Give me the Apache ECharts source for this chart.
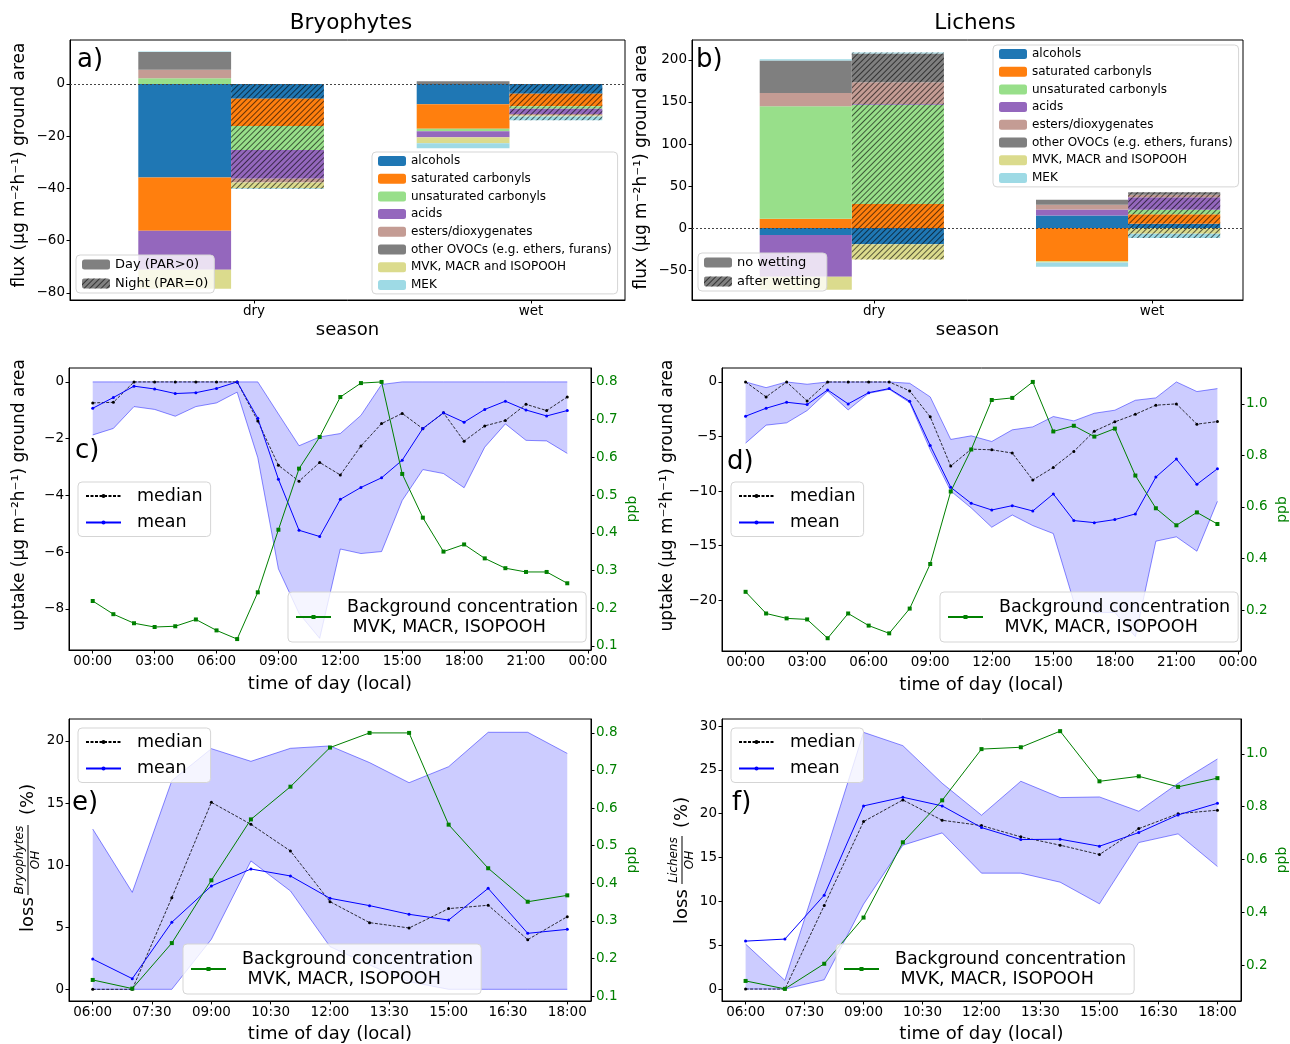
<!DOCTYPE html>
<html><head><meta charset="utf-8">
<script src="https://cdn.jsdelivr.net/npm/echarts@6/dist/echarts.min.js"></script>
<style>html,body{margin:0;padding:0;background:#fff}#c{width:1290px;height:1044px}</style>
</head><body><div id="c"></div>
<script>
// ================= DATA =================
const GROUPS = ['alcohols','saturated carbonyls','unsaturated carbonyls','acids','esters/dioxygenates','other OVOCs (e.g. ethers, furans)','MVK, MACR and ISOPOOH','MEK'];
const SEASONS = ['dry','wet'];
const BRYO_PERIODS = ['Day (PAR>0)','Night (PAR=0)'];
const LICH_PERIODS = ['no wetting','after wetting'];
// Panel a (Bryophytes) flux, bars ordered [dry Day, dry Night, wet Day, wet Night]
const A_ALCOHOLS = [-35.8, -5.7, -7.8, -3.8];
const A_SAT_CARB = [-20.4, -10.4, -9.4, -4.8];
const A_UNSAT_CARB = [2.2, -9.2, -0.9, -0.9];
const A_ACIDS = [-14.9, -11.0, -2.2, -2.0];
const A_ESTERS = [3.2, -1.4, -0.2, -0.6];
const A_OTHER = [6.8, 0, 1.0, 0];
const A_MVK = [-7.3, -2.2, -2.2, -0.4];
const A_MEK = [0.2, -0.3, -1.9, -1.4];
// Panel b (Lichens) flux, bars ordered [dry no wetting, dry after wetting, wet no wetting, wet after wetting]
const B_ALCOHOLS = [-8.3, -19.3, 15.0, 5.1];
const B_SAT_CARB = [11.0, 28.7, -39.4, 11.4];
const B_UNSAT_CARB = [134.0, 118.0, 0, 5.1];
const B_ACIDS = [-49.6, 0.8, 7.1, 15.0];
const B_ESTERS = [15.7, 26.0, 5.5, 3.1];
const B_OTHER = [38.6, 34.3, 5.9, 2.8];
const B_MVK = [-15.7, -18.1, -1.6, -6.7];
const B_MEK = [1.6, 1.2, -5.1, -5.1];

// Panels c, d: hourly (local time)
const HOURS_DAY = [0,1,2,3,4,5,6,7,8,9,10,11,12,13,14,15,16,17,18,19,20,21,22,23];
const TICKS_DAY = [0,3,6,9,12,15,18,21,24];
const TICK_LABELS_DAY = ['00:00','03:00','06:00','09:00','12:00','15:00','18:00','21:00','00:00'];
const C_MEDIAN = [-0.74,-0.72,0,0,0,0,0,0,-1.38,-2.94,-3.50,-2.84,-3.28,-2.26,-1.47,-1.11,-1.65,-1.09,-2.09,-1.55,-1.36,-0.79,-1.01,-0.53];
const C_MEAN = [-0.93,-0.55,-0.15,-0.25,-0.41,-0.38,-0.23,0,-1.28,-3.43,-5.23,-5.45,-4.14,-3.72,-3.38,-2.76,-1.64,-1.09,-1.42,-0.97,-0.68,-0.99,-1.20,-1.01];
const C_UPPER = [0,0,0,0,0,0,0,0,0,-1.13,-2.25,-1.94,-1.82,-1.18,-0.09,0,0,0,0,0,0,0,0,0];
const C_LOWER = [-1.87,-1.64,-0.87,-0.97,-1.21,-0.87,-0.74,-0.36,-2.67,-6.59,-8.16,-9.04,-5.89,-6.05,-5.98,-4.18,-3.09,-3.23,-3.73,-2.30,-1.48,-2.06,-2.08,-2.52];
const C_BG = [0.219,0.184,0.160,0.150,0.152,0.170,0.141,0.118,0.242,0.408,0.570,0.654,0.760,0.797,0.800,0.556,0.440,0.350,0.369,0.332,0.306,0.296,0.296,0.266];
const D_MEDIAN = [0,-1.37,0,-1.74,0,0,0,0,-0.82,-3.2,-7.71,-6.16,-6.22,-6.52,-8.99,-7.84,-6.37,-4.51,-3.66,-2.96,-2.13,-2.01,-3.87,-3.63];
const D_MEAN = [-3.14,-2.41,-1.86,-2.07,-0.73,-2.01,-0.98,-0.61,-1.77,-5.82,-9.66,-11.13,-11.74,-11.34,-11.83,-10.27,-12.71,-12.9,-12.62,-12.1,-8.72,-7.07,-9.39,-7.96];
const D_UPPER = [0,-0.52,0,-0.21,0,0,0,0,-0.12,-1.37,-5.27,-4.94,-5.46,-4.39,-4.12,-3.17,-3.57,-2.87,-2.59,-1.68,-1.46,0,-0.88,-0.61];
const D_LOWER = [-5.61,-3.96,-3.75,-2.62,-0.85,-2.56,-1.04,-0.67,-1.89,-6.22,-10.0,-11.55,-13.32,-12.2,-13.17,-13.9,-20.15,-21.16,-21.13,-23.35,-14.6,-14.2,-15.52,-10.95];
const D_BG = [0.271,0.187,0.168,0.164,0.091,0.187,0.140,0.110,0.206,0.379,0.660,0.823,1.015,1.023,1.085,0.893,0.915,0.873,0.904,0.722,0.595,0.529,0.579,0.534];

// Panels e, f: daytime hours
const HOURS_LIGHT = [6,7,8,9,10,11,12,13,14,15,16,17,18];
const TICKS_LIGHT = [6,7.5,9,10.5,12,13.5,15,16.5,18];
const TICK_LABELS_LIGHT = ['06:00','07:30','09:00','10:30','12:00','13:30','15:00','16:30','18:00'];
const E_MEDIAN = [0,0,7.38,15.06,13.29,11.14,7.06,5.37,4.94,6.50,6.77,4.0,5.85];
const E_MEAN = [2.44,0.86,5.40,8.32,9.69,9.13,7.33,6.74,6.04,5.58,8.13,4.51,4.83];
const E_UPPER = [12.91,7.81,16.8,19.38,18.36,19.41,19.6,18.26,16.64,17.93,20.7,20.7,19.0];
const E_LOWER = [0,0,0,4.03,10.34,7.92,3.44,1.96,0.62,0,0,0,0];
const E_BG = [0.143,0.120,0.241,0.408,0.570,0.657,0.761,0.800,0.800,0.556,0.440,0.351,0.368];
const F_MEDIAN = [0,0,9.53,19.1,21.57,19.25,18.65,17.36,16.41,15.34,18.3,20.0,20.4];
const F_MEAN = [5.47,5.70,10.71,20.89,21.88,20.89,18.42,17.05,17.09,16.29,17.85,19.86,21.19];
const F_UPPER = [5.13,0.99,15.0,29.28,27.76,23.47,19.83,23.7,21.84,21.91,20.28,23.47,26.24];
const F_LOWER = [0,0,1.06,9.68,16.41,17.81,13.22,13.22,12.19,9.72,16.71,17.7,13.98];
const F_BG = [0.140,0.110,0.205,0.380,0.665,0.824,1.018,1.025,1.086,0.896,0.915,0.875,0.908];

const BG_NAME = 'Background concentration\n MVK, MACR, ISOPOOH';

// ================= STYLE / LAYOUT =================
const FONT = "'DejaVu Sans', sans-serif";
const COLORS = ['#1f77b4','#ff7f0e','#98df8a','#9467bd','#c49c94','#7f7f7f','#dbdb8d','#9edae5'];
const HATCH = {symbol:'rect', symbolSize:1, dashArrayX:[1,0], dashArrayY:[1,2.8], rotation:-Math.PI/4, color:'rgba(0,0,0,0.6)'};
const GREEN = '#008000';
const BAR_SLOTS = ['s0','s1','gap','s2','s3'];  // category slots for bars: two bars, empty slot, two bars

const A_DATA = [A_ALCOHOLS, A_SAT_CARB, A_UNSAT_CARB, A_ACIDS, A_ESTERS, A_OTHER, A_MVK, A_MEK];
const B_DATA = [B_ALCOHOLS, B_SAT_CARB, B_UNSAT_CARB, B_ACIDS, B_ESTERS, B_OTHER, B_MVK, B_MEK];

function fmtNum(v){ return String(v).replace('-', '\u2212'); }
function pick(ticks, labels){ return v => { const i = ticks.findIndex(t => Math.abs(t - v) < 1e-6); return i >= 0 ? labels[i] : ''; }; }

const AX_COMMON = {
  splitLine:{show:false},
  axisLine:{show:true, onZero:false, lineStyle:{color:'#000', width:1}},
  axisTick:{show:true, length:3.5, lineStyle:{color:'#000'}},
  axisLabel:{fontFamily:FONT, fontSize:13.5, color:'#000', margin:5}
};
function xAxisDef(grid, min, max, ticks, labels, name, nameGap){
  return Object.assign({}, AX_COMMON, {
    type:'value', gridIndex:grid, min, max,
    axisTick:Object.assign({}, AX_COMMON.axisTick, {customValues:ticks}),
    axisLabel:Object.assign({}, AX_COMMON.axisLabel, {customValues:ticks, formatter:pick(ticks, labels), margin:4}),
    name, nameLocation:'middle', nameGap, nameTextStyle:{fontFamily:FONT, fontSize:18, color:'#000'}
  });
}
function yAxisDef(grid, min, max, ticks, opts){
  opts = opts || {};
  const right = opts.right;
  const labelFmt = opts.decimals != null ? (v => v.toFixed(opts.decimals)) : fmtNum;
  return Object.assign({}, AX_COMMON, {
    type:'value', gridIndex:grid, min, max, position: right ? 'right' : 'left',
    axisTick:Object.assign({}, AX_COMMON.axisTick, {customValues:ticks}),
    axisLabel:Object.assign({}, AX_COMMON.axisLabel, {customValues:ticks, formatter:labelFmt, color: right ? GREEN : '#000'}),
    name: opts.name || '', nameLocation:'middle', nameGap: opts.nameGap || 40, nameRotate:90,
    nameTextStyle:{fontFamily:FONT, fontSize: right ? 14 : 17, color: right ? GREEN : '#000', padding: opts.namePad || 0}
  });
}

const FRAME = {show:true, borderColor:'#000', borderWidth:1, backgroundColor:'transparent'};
const grids = [
  Object.assign({left:70, top:40, width:555, height:260}, FRAME),
  Object.assign({left:692, top:40, width:551, height:260}, FRAME),
  Object.assign({left:69, top:368, width:522, height:282}, FRAME),
  Object.assign({left:722, top:368, width:521, height:283}, FRAME),
  Object.assign({left:69, top:719, width:522, height:283}, FRAME),
  Object.assign({left:722, top:719, width:521, height:283}, FRAME),
  // bar-slot grids (no frame) lying inside panels a and b
  {show:false, left:138.3, top:40, width:464, height:260},
  {show:false, left:759.7, top:40, width:460.5, height:260}
];

const xAxes = [
  xAxisDef(0, -0.664, 1.339, [0,1], SEASONS, 'season', 21),
  xAxisDef(1, -0.655, 1.327, [0,1], SEASONS, 'season', 21),
  xAxisDef(2, -1.15, 24.15, TICKS_DAY, TICK_LABELS_DAY, 'time of day (local)', 25),
  xAxisDef(3, -1.15, 24.15, TICKS_DAY, TICK_LABELS_DAY, 'time of day (local)', 25),
  xAxisDef(4, 5.4, 18.6, TICKS_LIGHT, TICK_LABELS_LIGHT, 'time of day (local)', 24),
  xAxisDef(5, 5.4, 18.6, TICKS_LIGHT, TICK_LABELS_LIGHT, 'time of day (local)', 24),
  {type:'category', gridIndex:6, data:BAR_SLOTS, show:false, boundaryGap:true},
  {type:'category', gridIndex:7, data:BAR_SLOTS, show:false, boundaryGap:true}
];
const FLUX_NAME = 'flux (\u03bcg m\u207b\u00b2h\u207b\u00b9) ground area';
const UPTAKE_NAME = 'uptake (\u03bcg m\u207b\u00b2h\u207b\u00b9) ground area';
const A_YMIN = -82.7, A_YMAX = 16.8, B_YMIN = -85.7, B_YMAX = 223.8;
const yAxes = [
  yAxisDef(0, A_YMIN, A_YMAX, [-80,-60,-40,-20,0], {name:FLUX_NAME, nameGap:42, namePad:[0,0,0,10]}),
  yAxisDef(1, B_YMIN, B_YMAX, [-50,0,50,100,150,200], {name:FLUX_NAME, nameGap:42, namePad:[0,0,0,6]}),
  yAxisDef(2, -9.45, 0.49, [-8,-6,-4,-2,0], {name:UPTAKE_NAME, nameGap:41, namePad:[0,0,0,28]}),
  yAxisDef(2, 0.089, 0.837, [0.1,0.2,0.3,0.4,0.5,0.6,0.7,0.8], {right:true, decimals:1, name:'ppb', nameGap:34}),
  yAxisDef(3, -24.67, 1.28, [-20,-15,-10,-5,0], {name:UPTAKE_NAME, nameGap:46, namePad:[0,0,0,28]}),
  yAxisDef(3, 0.0415, 1.139, [0.2,0.4,0.6,0.8,1.0], {right:true, decimals:1, name:'ppb', nameGap:34}),
  yAxisDef(4, -0.94, 21.77, [0,5,10,15,20], {}),
  yAxisDef(4, 0.087, 0.837, [0.1,0.2,0.3,0.4,0.5,0.6,0.7,0.8], {right:true, decimals:1, name:'ppb', nameGap:34}),
  yAxisDef(5, -1.36, 30.8, [0,5,10,15,20,25,30], {}),
  yAxisDef(5, 0.064, 1.132, [0.2,0.4,0.6,0.8,1.0], {right:true, decimals:1, name:'ppb', nameGap:34}),
  {type:'value', gridIndex:6, min:A_YMIN, max:A_YMAX, show:false, splitLine:{show:false}},
  {type:'value', gridIndex:7, min:B_YMIN, max:B_YMAX, show:false, splitLine:{show:false}}
];

const series = [];
function barPanel(frameIdx, slotX, slotY, stackId, data, periods){
  // dotted zero line across the whole panel
  series.push({type:'line', xAxisIndex:frameIdx, yAxisIndex:frameIdx, data:[], silent:true,
    markLine:{silent:true, symbol:'none', label:{show:false}, animation:false,
      lineStyle:{type:[2,2], color:'#444', width:1}, data:[{yAxis:0}]}});
  data.forEach((vals, gi) => {
    series.push({
      type:'bar', name:GROUPS[gi], xAxisIndex:slotX, yAxisIndex:slotY, stack:stackId,
      barWidth:'100%', barCategoryGap:0, itemStyle:{color:COLORS[gi]}, z:2,
      data: [vals[0], {value:vals[1], itemStyle:{decal:HATCH}}, '-', vals[2], {value:vals[3], itemStyle:{decal:HATCH}}]
    });
  });
  series.push({type:'bar', name:periods[0], xAxisIndex:slotX, yAxisIndex:slotY, stack:stackId, barWidth:'100%', itemStyle:{color:'#808080'}, data:[]});
  series.push({type:'bar', name:periods[1], xAxisIndex:slotX, yAxisIndex:slotY, stack:stackId, barWidth:'100%', itemStyle:{color:'#808080', decal:HATCH}, data:[]});
}
barPanel(0, 6, 10, 'bryo', A_DATA, BRYO_PERIODS);
barPanel(1, 7, 11, 'lich', B_DATA, LICH_PERIODS);

function linePanel(xi, yl, yr, hours, median, mean, upper, lower, bg){
  const edge = {color:'rgba(0,0,255,0.45)', width:1};
  // shaded band between lower and upper envelope
  series.push({type:'custom', xAxisIndex:xi, yAxisIndex:yl, z:1, silent:true,
    data: hours.map((h,i) => [h, lower[i], upper[i]]),
    encode:{x:0, y:[1,2]},
    renderItem: (params, api) => {
      if (params.dataIndex !== 0) return null;
      const pts = [];
      for (let i = 0; i < hours.length; i++) pts.push(api.coord([hours[i], upper[i]]));
      for (let i = hours.length - 1; i >= 0; i--) pts.push(api.coord([hours[i], lower[i]]));
      return {type:'polygon', shape:{points:pts}, style:{fill:'rgba(0,0,255,0.2)'}};
    }});
  series.push({type:'line', xAxisIndex:xi, yAxisIndex:yl, symbol:'none', z:2, silent:true,
    lineStyle:edge, data: hours.map((h,i) => [h, lower[i]])});
  series.push({type:'line', xAxisIndex:xi, yAxisIndex:yl, symbol:'none', z:2, silent:true,
    lineStyle:edge, data: hours.map((h,i) => [h, upper[i]])});
  series.push({type:'line', name:'median', xAxisIndex:xi, yAxisIndex:yl, symbol:'circle', symbolSize:3, z:3,
    itemStyle:{color:'#000'}, lineStyle:{color:'#000', width:0.8, type:[3,1.5]}, data: hours.map((h,i) => [h, median[i]])});
  series.push({type:'line', name:'mean', xAxisIndex:xi, yAxisIndex:yl, symbol:'circle', symbolSize:3, z:3,
    itemStyle:{color:'#0000ff'}, lineStyle:{color:'#0000ff', width:1}, data: hours.map((h,i) => [h, mean[i]])});
  series.push({type:'line', name:BG_NAME, xAxisIndex:xi, yAxisIndex:yr, symbol:'rect', symbolSize:4, z:4,
    itemStyle:{color:GREEN}, lineStyle:{color:GREEN, width:1}, data: hours.map((h,i) => [h, bg[i]])});
}
linePanel(2, 2, 3, HOURS_DAY, C_MEDIAN, C_MEAN, C_UPPER, C_LOWER, C_BG);
linePanel(3, 4, 5, HOURS_DAY, D_MEDIAN, D_MEAN, D_UPPER, D_LOWER, D_BG);
linePanel(4, 6, 7, HOURS_LIGHT, E_MEDIAN, E_MEAN, E_UPPER, E_LOWER, E_BG);
linePanel(5, 8, 9, HOURS_LIGHT, F_MEDIAN, F_MEAN, F_UPPER, F_LOWER, F_BG);

const LEG = {orient:'vertical', backgroundColor:'rgba(255,255,255,0.8)', borderColor:'#d5d5d5', borderWidth:1, borderRadius:4, selectedMode:false, z:20};
function catLegend(left, top){ return Object.assign({}, LEG, {data:GROUPS, left, top, itemWidth:28, itemHeight:10, itemGap:5.7, padding:[3,6,3,6],
  textStyle:{fontFamily:FONT, fontSize:12, lineHeight:12, color:'#000'}}); }
function perLegend(names, left, top){ return Object.assign({}, LEG, {data:names, left, top, itemWidth:28, itemHeight:10, itemGap:6, padding:[3,6,3,6],
  textStyle:{fontFamily:FONT, fontSize:13, lineHeight:13, color:'#000'}}); }
function statLegend(left, top){ return Object.assign({}, LEG, {data:['median','mean'], left, top, itemWidth:35, itemHeight:5, itemGap:8.5, padding:[5,8,5,7],
  textStyle:{fontFamily:FONT, fontSize:17.5, lineHeight:17.5, color:'#000', padding:[0,0,0,11]}}); }
function bgLegend(left, top){ return Object.assign({}, LEG, {data:[BG_NAME], left, top, itemWidth:35, itemHeight:5, padding:[5,8,5,7],
  textStyle:{fontFamily:FONT, fontSize:17.5, lineHeight:20, color:'#000', padding:[0,0,0,11]}}); }

const legends = [
  catLegend(372, 152), perLegend(BRYO_PERIODS, 76, 255),
  catLegend(993, 45), perLegend(LICH_PERIODS, 698, 253),
  statLegend(78, 482), bgLegend(288, 592),
  statLegend(731, 482), bgLegend(940, 592),
  statLegend(78, 728), bgLegend(183, 944),
  statLegend(731, 728), bgLegend(836, 944)
];

function txt(text, x, y, size, align){ return {type:'text', x, y, z:100, style:{text, fontFamily:FONT, fontSize:size, fill:'#000', align:align||'left', verticalAlign:'middle'}}; }
function lossLabel(x, y, organism, lossStart, fracHalf, pctStart){
  return {type:'group', x, y, rotation:Math.PI/2, z:100, children:[
    {type:'text', x:lossStart, y:0, style:{text:'loss', fontFamily:FONT, fontSize:18, fill:'#000', align:'left', verticalAlign:'middle'}},
    {type:'text', x:0, y:-2, style:{text:organism, fontFamily:FONT, fontStyle:'italic', fontSize:12, fill:'#000', align:'center', verticalAlign:'bottom'}},
    {type:'line', shape:{x1:-fracHalf, y1:0, x2:fracHalf, y2:0}, style:{stroke:'#000', lineWidth:1}},
    {type:'text', x:0, y:2, style:{text:'OH', fontFamily:FONT, fontStyle:'italic', fontSize:12, fill:'#000', align:'center', verticalAlign:'top'}},
    {type:'text', x:pctStart, y:0, style:{text:'(%)', fontFamily:FONT, fontSize:18, fill:'#000', align:'left', verticalAlign:'middle'}}
  ]};
}
const graphics = [
  txt('Bryophytes', 351, 23, 21.5, 'center'),
  txt('Lichens', 975, 23, 21.5, 'center'),
  txt('a)', 77, 60, 26), txt('b)', 696, 60, 26),
  txt('c)', 75, 451, 26), txt('d)', 727, 462, 26),
  txt('e)', 72, 803, 26), txt('f)', 732, 803, 26),
  lossLabel(28, 860, 'Bryophytes', -72, 35, 45),
  lossLabel(682, 860, 'Lichens', -64, 24, 32)
];

const chart = echarts.init(document.getElementById('c'), null, {renderer:'canvas'});
chart.setOption({
  animation:false,
  backgroundColor:'#fff',
  textStyle:{fontFamily:FONT},
  grid:grids, xAxis:xAxes, yAxis:yAxes, legend:legends, series, graphic:graphics
});
</script></body></html>
